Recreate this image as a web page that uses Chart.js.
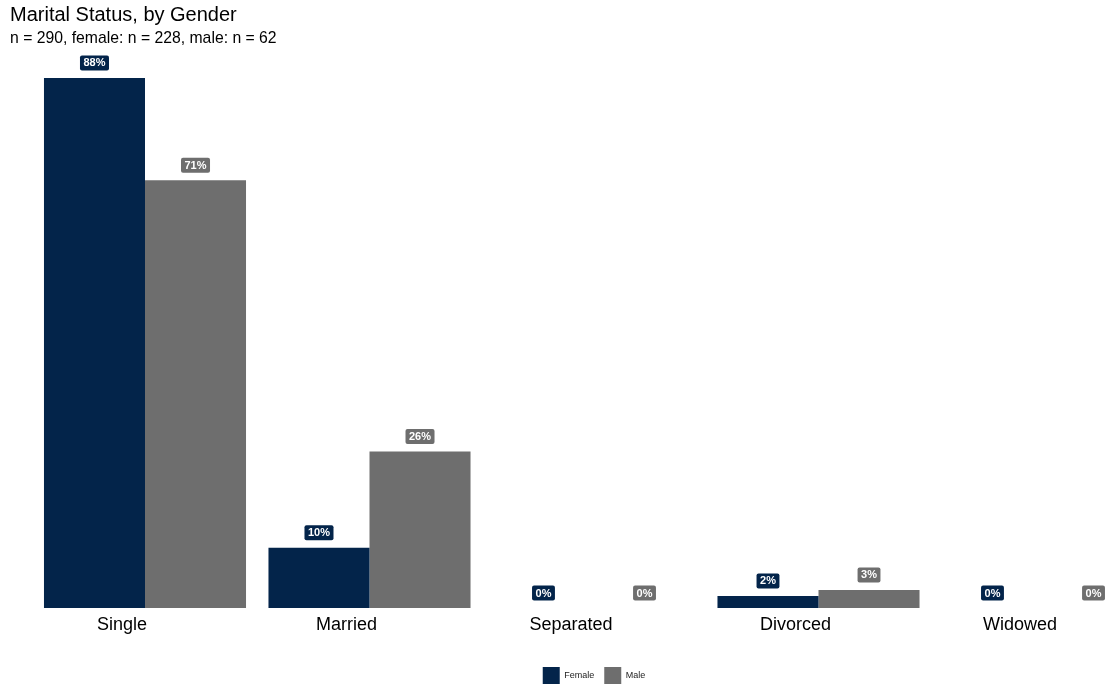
<!DOCTYPE html>
<html>
<head>
<meta charset="utf-8">
<title>Marital Status, by Gender</title>
<script src="https://cdn.jsdelivr.net/npm/chart.js@4/dist/chart.umd.min.js"></script>
<style>
  html, body { margin: 0; padding: 0; background: #fff; overflow: hidden; }
  #wrap { width: 1106px; height: 687px; overflow: hidden; }
</style>
</head>
<body>
<div id="wrap">
  <canvas id="maritalChart" width="1194" height="687"></canvas>
</div>
<script>
// Marital status shares (%) per gender
const statuses = ['Single', 'Married', 'Separated', 'Divorced', 'Widowed'];
const femalePct = [88, 10, 0, 2, 0];
const malePct = [71, 26, 0, 3, 0];
const genders = ['Female', 'Male'];
const colors = ['#03244A', '#6E6E6E'];
const yMax = 92.4;

const FONT = 'Liberation Sans, Arial, Helvetica, sans-serif';

// Small rounded boxes with the percentage above each bar
const barLabels = {
    id: 'barLabels',
    afterDatasetsDraw(chart) {
        const ctx = chart.ctx;
        ctx.save();
        ctx.font = 'bold 11px ' + FONT;
        ctx.textAlign = 'center';
        ctx.textBaseline = 'middle';
        chart.data.datasets.forEach((ds, i) => {
            const meta = chart.getDatasetMeta(i);
            meta.data.forEach((bar, j) => {
                const text = ds.data[j] + '%';
                const w = ctx.measureText(text).width + 7;
                const h = 15;
                const cx = bar.x;
                const cy = bar.y - 15;
                ctx.fillStyle = ds.backgroundColor;
                ctx.beginPath();
                ctx.roundRect(cx - w / 2, cy - h / 2, w, h, 2);
                ctx.fill();
                ctx.fillStyle = '#ffffff';
                ctx.fillText(text, cx, cy + 0.5);
            });
        });
        ctx.restore();
    }
};

const ctx = document.getElementById('maritalChart').getContext('2d');
const maritalChart = new Chart(ctx, {
    type: 'bar',
    data: {
        labels: statuses,
        datasets: [{
            label: genders[0],
            data: femalePct,
            backgroundColor: colors[0]
        }, {
            label: genders[1],
            data: malePct,
            backgroundColor: colors[1]
        }]
    },
    options: {
        responsive: false,
        animation: false,
        devicePixelRatio: 1,
        categoryPercentage: 0.9,
        barPercentage: 1.0,
        layout: { padding: { left: 10, right: 38.75, top: 0, bottom: -7 } },
        scales: {
            x: {
                grid: { display: false, drawTicks: false },
                border: { display: false },
                ticks: {
                    color: '#000',
                    font: { family: FONT, size: 18 },
                    padding: 6,
                    labelOffset: -23,
                    maxRotation: 0
                },
                afterFit(scale) { scale.height = 49; }
            },
            y: {
                min: 0,
                max: yMax,
                grid: { display: false, drawTicks: false },
                border: { display: false },
                ticks: { display: false },
                afterFit(scale) { scale.width = 22.75; }
            }
        },
        plugins: {
            title: {
                display: true,
                text: 'Marital Status, by Gender',
                align: 'start',
                color: '#000',
                font: { family: FONT, size: 20, weight: 'normal', lineHeight: 1.2 },
                padding: { top: 3.5, bottom: 0 }
            },
            subtitle: {
                display: true,
                text: 'n = 290, female: n = 228, male: n = 62',
                align: 'start',
                color: '#000',
                font: { family: FONT, size: 15.75, lineHeight: 1.2 },
                padding: { top: 1.5, bottom: 3.5 }
            },
            legend: {
                position: 'bottom',
                fullSize: false,
                labels: {
                    boxWidth: 17,
                    boxHeight: 17,
                    padding: 10,
                    color: '#222',
                    font: { family: FONT, size: 9 }
                }
            },
            tooltip: { enabled: false }
        }
    },
    plugins: [barLabels]
});
</script>
</body>
</html>
